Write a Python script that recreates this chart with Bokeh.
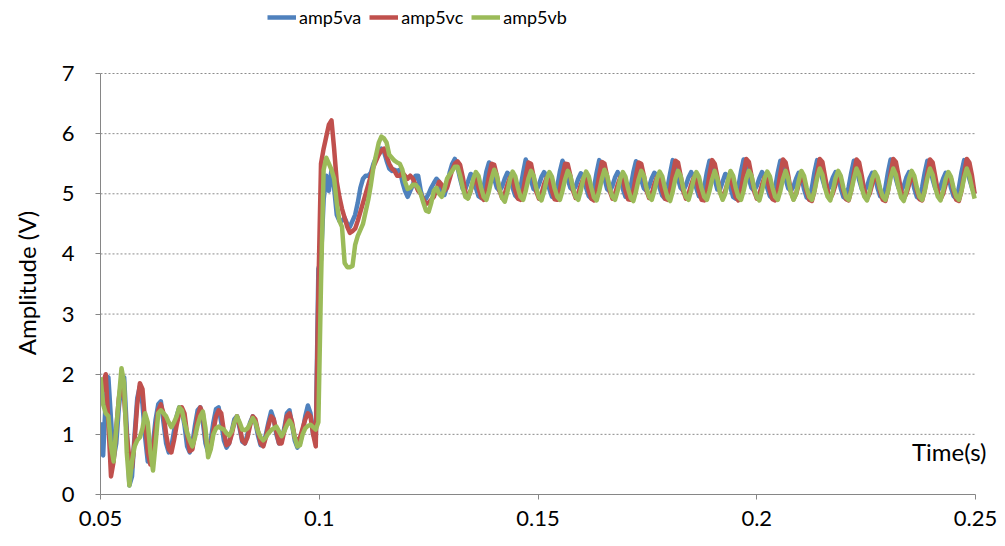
import numpy as np
from bokeh.plotting import figure
from bokeh.layouts import column
from bokeh.models import Range1d, FixedTicker, Legend, LegendItem
from bokeh.embed import file_html
from bokeh.resources import INLINE

# ---- data (sampled every 0.6 ms starting at t = 0.05 s) ----
t_start = 0.05
t_step = 0.0006

amp5va = [
    1.2, 0.65, 1.6, 1.95, 1.25, 0.6, 0.85, 1.45, 1.85, 1.95,
    1.1, 0.15, 0.3, 1.0, 1.6, 1.8, 1.5, 0.95, 0.55, 0.6,
    0.85, 1.25, 1.5, 1.55, 1.2, 0.85, 0.7, 0.8, 1.05, 1.3,
    1.45, 1.4, 1.15, 0.8, 0.7, 0.85, 1.15, 1.4, 1.45, 1.2,
    0.85, 0.7, 0.9, 1.2, 1.42, 1.45, 1.2, 0.9, 0.78, 0.85,
    1.05, 1.25, 1.3, 1.1, 0.88, 0.85, 1.0, 1.2, 1.3, 1.2,
    0.98, 0.82, 0.82, 1.0, 1.2, 1.38, 1.25, 1.0, 0.85, 0.9,
    1.1, 1.35, 1.4, 1.15, 0.9, 0.78, 0.85, 1.05, 1.3, 1.48,
    1.35, 1.0, 0.9,
    3.75, 3.9, 4.9, 5.3, 5.05, 5.4, 5.1, 4.65, 4.55, 4.55,
    4.6, 4.5, 4.45, 4.55, 4.65, 4.85, 5.1, 5.25, 5.3, 5.3,
    5.35, 5.5, 5.6, 5.7, 5.75, 5.7, 5.55, 5.42, 5.38, 5.4,
    5.38, 5.4, 5.2, 5.05, 4.95, 5.05, 5.15, 5.3, 5.3, 5.05,
    4.9, 4.92, 5.0, 5.1, 5.18, 5.25, 5.2, 5.02, 4.98, 5.12,
    5.35, 5.5,
    5.58, 5.45, 5.25, 5.08, 5.08, 5.2, 5.33, 5.3, 5.1, 4.96, 4.93, 5.12, 5.37,
    5.52, 5.45, 5.25, 5.1, 5.05, 5.12, 5.25, 5.35, 5.3, 5.1, 4.97, 4.93, 5.1, 5.35,
    5.57, 5.45, 5.22, 5.08, 5.05, 5.15, 5.28, 5.36, 5.28, 5.08, 4.95, 4.93, 5.12, 5.37,
    5.55, 5.44, 5.24, 5.1, 5.06, 5.12, 5.25, 5.34, 5.3, 5.1, 4.96, 4.92, 5.1, 5.35,
    5.56, 5.46, 5.25, 5.08, 5.04, 5.13, 5.27, 5.36, 5.29, 5.08, 4.95, 4.94, 5.12, 5.36,
    5.54, 5.44, 5.23, 5.09, 5.05, 5.12, 5.26, 5.35, 5.3, 5.1, 4.97, 4.92, 5.1, 5.34,
    5.56, 5.45, 5.25, 5.1, 5.05, 5.14, 5.27, 5.36, 5.29, 5.09, 4.96, 4.93, 5.11, 5.36,
    5.55, 5.44, 5.24, 5.07, 5.07, 5.2, 5.33, 5.3, 5.1, 4.95, 4.92, 5.12, 5.37,
    5.57, 5.46, 5.25, 5.1, 5.05, 5.13, 5.26, 5.36, 5.3, 5.1, 4.96, 4.92, 5.1, 5.35,
    5.55, 5.44, 5.24, 5.09, 5.05, 5.12, 5.25, 5.35, 5.29, 5.08, 4.94, 4.91, 5.1, 5.36,
    5.56, 5.45, 5.25, 5.1, 5.06, 5.14, 5.27, 5.36, 5.3, 5.09, 4.95, 4.92, 5.11, 5.35,
    5.55, 5.44, 5.23, 5.08, 5.05, 5.12, 5.26, 5.35, 5.29, 5.1, 4.96, 4.93, 5.1, 5.36,
    5.57, 5.46, 5.25, 5.1, 5.05, 5.13, 5.27, 5.36, 5.3, 5.09, 4.95, 4.92, 5.11, 5.35,
    5.55, 5.44, 5.24, 5.09, 5.05, 5.12, 5.25, 5.35, 5.3, 5.1, 4.96, 4.92, 5.1, 5.36,
    5.56, 5.45, 5.25, 5.1, 5.0,
]

amp5vc = [
    1.5, 1.85, 2.0, 1.2, 0.3, 0.55, 1.1, 1.6, 1.9, 1.6,
    1.0, 0.6, 0.45, 0.9, 1.5, 1.85, 1.75, 1.2, 0.7, 0.5,
    0.75, 1.1, 1.4, 1.5, 1.35, 1.0, 0.75, 0.7, 0.9, 1.15,
    1.35, 1.45, 1.35, 1.0, 0.72, 0.75, 1.0, 1.3, 1.45, 1.35,
    0.95, 0.72, 0.8, 1.05, 1.3, 1.4, 1.35, 1.05, 0.82, 0.85,
    1.0, 1.2, 1.3, 1.15, 0.9, 0.85, 0.95, 1.15, 1.3, 1.25,
    1.05, 0.85, 0.8, 0.95, 1.15, 1.3, 1.25, 1.05, 0.85, 0.85,
    1.05, 1.3, 1.35, 1.2, 0.95, 0.9, 0.95, 1.1, 1.25, 1.35,
    1.3, 1.0, 0.8,
    3.4, 5.5, 5.75, 5.95, 6.15, 6.22, 5.75, 5.2, 4.95, 4.75,
    4.6, 4.45, 4.35, 4.38, 4.42, 4.55, 4.7, 4.85, 5.0, 5.15,
    5.3, 5.45, 5.55, 5.65, 5.72, 5.75, 5.62, 5.5, 5.42, 5.38,
    5.3, 5.3, 5.35, 5.3, 5.25, 5.3, 5.25, 5.15, 5.05, 5.0,
    4.9, 4.83, 4.85, 4.9, 4.95, 5.08, 5.2, 5.15, 5.05, 5.1,
    5.25, 5.4, 5.5,
    5.54, 5.48, 5.28, 5.03, 4.93, 5.05, 5.2, 5.27, 5.1, 4.95, 4.9, 5.05, 5.3,
    5.5, 5.48, 5.3, 5.05, 4.93, 5.0, 5.15, 5.27, 5.25, 5.05, 4.92, 4.9, 5.05, 5.3,
    5.52, 5.5, 5.28, 5.04, 4.92, 5.0, 5.16, 5.27, 5.24, 5.04, 4.91, 4.9, 5.06, 5.3,
    5.5, 5.49, 5.3, 5.05, 4.93, 5.01, 5.15, 5.26, 5.25, 5.05, 4.92, 4.89, 5.05, 5.31,
    5.53, 5.5, 5.29, 5.05, 4.92, 5.0, 5.15, 5.27, 5.25, 5.04, 4.91, 4.9, 5.05, 5.3,
    5.52, 5.5, 5.3, 5.06, 4.93, 5.0, 5.16, 5.28, 5.25, 5.05, 4.92, 4.9, 5.06, 5.32,
    5.55, 5.52, 5.3, 5.05, 4.92, 5.0, 5.15, 5.27, 5.24, 5.04, 4.9, 4.89, 5.05, 5.32,
    5.56, 5.5, 5.28, 5.03, 4.92, 5.05, 5.2, 5.27, 5.1, 4.94, 4.89, 5.05, 5.33,
    5.58, 5.53, 5.3, 5.05, 4.92, 5.0, 5.15, 5.28, 5.25, 5.05, 4.91, 4.89, 5.06, 5.33,
    5.57, 5.52, 5.3, 5.04, 4.91, 5.0, 5.16, 5.27, 5.24, 5.04, 4.9, 4.88, 5.05, 5.34,
    5.58, 5.53, 5.29, 5.05, 4.92, 5.01, 5.15, 5.27, 5.25, 5.05, 4.91, 4.89, 5.06, 5.33,
    5.57, 5.52, 5.3, 5.05, 4.92, 5.0, 5.16, 5.28, 5.25, 5.04, 4.9, 4.88, 5.05, 5.33,
    5.58, 5.53, 5.3, 5.05, 4.92, 5.0, 5.15, 5.27, 5.24, 5.05, 4.91, 4.89, 5.06, 5.34,
    5.57, 5.52, 5.29, 5.04, 4.91, 5.0, 5.16, 5.27, 5.25, 5.04, 4.9, 4.88, 5.05, 5.33,
    5.58, 5.52, 5.3, 5.0,
]

amp5vb = [
    1.95, 1.5, 1.35, 1.3, 0.8, 0.55, 1.1, 1.6, 2.1, 1.85,
    0.7, 0.15, 0.55, 0.8, 0.9, 0.95, 1.1, 1.35, 1.2, 0.7,
    0.4, 0.85, 1.35, 1.4, 1.35, 1.3, 1.2, 1.12, 1.2, 1.3,
    1.45, 1.4, 1.2, 1.03, 0.9, 0.8, 0.95, 1.15, 1.3, 1.38,
    1.1, 0.62, 0.75, 1.0, 1.1, 1.13, 1.1, 1.08, 1.02, 0.98,
    1.05, 1.2, 1.3, 1.2, 1.08, 1.07, 1.1, 1.18, 1.27, 1.2,
    1.05, 0.95, 0.9, 0.95, 1.02, 1.07, 1.1, 1.13, 1.05, 0.97,
    1.05, 1.15, 1.23, 1.15, 0.95, 0.8, 0.82, 1.0, 1.1, 1.14,
    1.16, 1.12, 1.08, 1.2,
    3.5, 5.4, 5.6, 5.5, 5.4, 5.25, 4.85, 4.55, 4.45, 3.85,
    3.78, 3.78, 3.8, 4.15, 4.3, 4.4, 4.5, 4.7, 4.9, 5.15,
    5.45, 5.65, 5.85, 5.95, 5.92, 5.85, 5.65, 5.6, 5.55, 5.52,
    5.5, 5.4, 5.2, 5.08, 5.1, 5.15, 5.15, 5.1, 5.0, 4.85,
    4.72, 4.7, 4.85, 5.05, 5.1, 5.0, 4.95, 5.08, 5.25, 5.32,
    5.38, 5.45, 5.45, 5.3, 5.1, 4.95, 4.92, 5.05, 5.25,
    5.36, 5.3, 5.1, 4.95, 4.9, 5.05, 5.25,
    5.4, 5.3, 5.08, 4.93, 4.87, 5.03, 5.24,
    5.37, 5.29, 5.1, 4.95, 4.9, 5.05, 5.25,
    5.38, 5.3, 5.1, 4.94, 4.89, 5.04, 5.25,
    5.36, 5.28, 5.09, 4.95, 4.9, 5.05, 5.24,
    5.38, 5.3, 5.1, 4.95, 4.9, 5.06, 5.26,
    5.37, 5.29, 5.1, 4.94, 4.89, 5.05, 5.25,
    5.4, 5.3, 5.1, 4.95, 4.9, 5.05, 5.25,
    5.36, 5.28, 5.08, 4.93, 4.88, 5.04, 5.24,
    5.38, 5.3, 5.1, 4.95, 4.9, 5.05, 5.25,
    5.37, 5.29, 5.1, 4.94, 4.88, 5.04, 5.25,
    5.38, 5.3, 5.1, 4.95, 4.9, 5.05, 5.25,
    5.36, 5.28, 5.09, 4.95, 4.9, 5.05, 5.24,
    5.38, 5.25, 5.02, 4.9, 5.0, 5.22,
    5.38, 5.3, 5.1, 4.95, 4.9, 5.05, 5.25,
    5.38, 5.3, 5.1, 4.94, 4.89, 5.05, 5.26,
    5.37, 5.29, 5.1, 4.95, 4.9, 5.05, 5.25,
    5.38, 5.25, 5.02, 4.9, 5.0, 5.22,
    5.38, 5.3, 5.1, 4.95, 4.9, 5.05, 5.26,
    5.42, 5.32, 5.1, 4.95, 4.89, 5.05, 5.26,
    5.38, 5.3, 5.1, 4.94, 4.9, 5.05, 5.25,
    5.42, 5.32, 5.1, 4.95, 4.89, 5.04, 5.25,
    5.36, 5.28, 5.09, 4.95, 4.9, 5.05, 5.26,
    5.42, 5.32, 5.1, 4.94, 4.88, 5.04, 5.25,
    5.38, 5.3, 5.1, 4.95, 4.9, 5.05, 5.26,
    5.42, 5.32, 5.1, 4.95, 4.89, 5.05, 5.25,
    5.36, 5.28, 5.09, 4.95, 4.9, 5.05, 5.26,
    5.42, 5.3, 5.1, 4.92,
]

series_names = ["amp5va", "amp5vc", "amp5vb"]
series_values = [amp5va, amp5vc, amp5vb]
series_colors = ["#4F81BD", "#C0504D", "#9BBB59"]

x_ticks = [0.05, 0.1, 0.15, 0.2, 0.25]
x_tick_labels = ["0.05", "0.1", "0.15", "0.2", "0.25"]
y_ticks = [0, 1, 2, 3, 4, 5, 6, 7]
grid_y = [1, 2, 3, 4, 5, 6, 7]

FONT = "Lato"
AXIS_GRAY = "#868686"
LINE_W = 4.5

# ---------------- legend strip (top) ----------------
LEG_H = 36
leg = figure(width=1000, height=LEG_H, x_range=Range1d(0, 1), y_range=Range1d(0, 1),
             x_axis_type=None, y_axis_type=None, output_backend="svg",
             toolbar_location=None, min_border_left=0, min_border_right=0,
             min_border_top=0, min_border_bottom=0)
leg.outline_line_color = None
leg.xgrid.grid_line_color = None
leg.ygrid.grid_line_color = None
leg_items = []
for name, col in zip(series_names, series_colors):
    # key samples only: kept outside the strip's visible range
    rr = leg.line([5, 6], [5, 5], line_color=col, line_width=LINE_W)
    leg_items.append(LegendItem(label=name, renderers=[rr]))
legend = Legend(items=leg_items, orientation="horizontal", location=(167, 8),
                border_line_color=None, background_fill_alpha=0,
                padding=0, margin=0, spacing=8, glyph_width=29,
                label_standoff=3, label_text_font=FONT,
                label_text_font_size="18px", label_text_color="black")
leg.add_layout(legend, "center")

# ---------------- main chart ----------------
# value axes span x 100..975 px and y 494..73 px on the page
PX_PER_X = 875 / (x_ticks[-1] - x_ticks[0])
PX_PER_Y = 421 / (y_ticks[-1] - y_ticks[0])
x_end = x_ticks[-1] + 16 / PX_PER_X          # room for the "Time(s)" text
y_end = y_ticks[-1] + 2 / PX_PER_Y           # keep the top gridline visible

p = figure(width=1000, height=540 - LEG_H,
           x_range=Range1d(x_ticks[0], x_end), y_range=Range1d(y_ticks[0], y_end),
           output_backend="svg", toolbar_location=None,
           min_border_left=100, min_border_right=9,
           min_border_top=73 - LEG_H - 2, min_border_bottom=46)
p.outline_line_color = None
p.background_fill_color = "white"
p.border_fill_color = "white"

# dotted horizontal gridlines restricted to the value range
p.xgrid.grid_line_color = None
p.ygrid.grid_line_color = None
p.segment(x0=[x_ticks[0]] * len(grid_y), x1=[x_ticks[-1]] * len(grid_y),
          y0=grid_y, y1=grid_y, line_color="#8c8c8c", line_width=1,
          line_dash="2 2")

for name, vals, col in zip(series_names, series_values, series_colors):
    t = t_start + t_step * np.arange(len(vals))
    p.line(t, vals, line_color=col, line_width=LINE_W, line_join="round")

# axes
p.xaxis.ticker = FixedTicker(ticks=x_ticks)
p.xaxis.major_label_overrides = {k: v for k, v in zip(x_ticks, x_tick_labels)}
p.xaxis.bounds = (x_ticks[0], x_ticks[-1])
p.yaxis.ticker = FixedTicker(ticks=y_ticks)
p.yaxis.bounds = (y_ticks[0], y_ticks[-1])
for ax in (p.xaxis[0], p.yaxis[0]):
    ax.axis_line_color = AXIS_GRAY
    ax.axis_line_width = 1
    ax.major_tick_line_color = AXIS_GRAY
    ax.major_tick_out = 5
    ax.major_tick_in = 0
    ax.minor_tick_line_color = None
    ax.major_label_text_font = FONT
    ax.major_label_text_font_size = "22px"
    ax.major_label_text_color = "black"
p.xaxis.major_label_standoff = 11
p.yaxis.major_label_standoff = 21
p.yaxis.axis_label = "Amplitude (V)"
p.yaxis.axis_label_text_font = FONT
p.yaxis.axis_label_text_font_size = "24px"
p.yaxis.axis_label_text_font_style = "normal"
p.yaxis.axis_label_text_color = "black"
p.yaxis.axis_label_standoff = 18

# x-axis title drawn at the lower right of the plot area
dummy = p.line([0.1], [0.0], line_alpha=0)
xtitle = Legend(items=[LegendItem(label="Time(s)", renderers=[dummy])],
                location=(812, 28), border_line_color=None,
                background_fill_alpha=0, padding=0, margin=0,
                glyph_width=0, label_standoff=0, label_text_font=FONT,
                label_text_font_size="24px", label_text_color="black")
p.add_layout(xtitle, "center")

layout = column(leg, p, spacing=0)
open("out.html", "w").write(file_html(layout, INLINE))
